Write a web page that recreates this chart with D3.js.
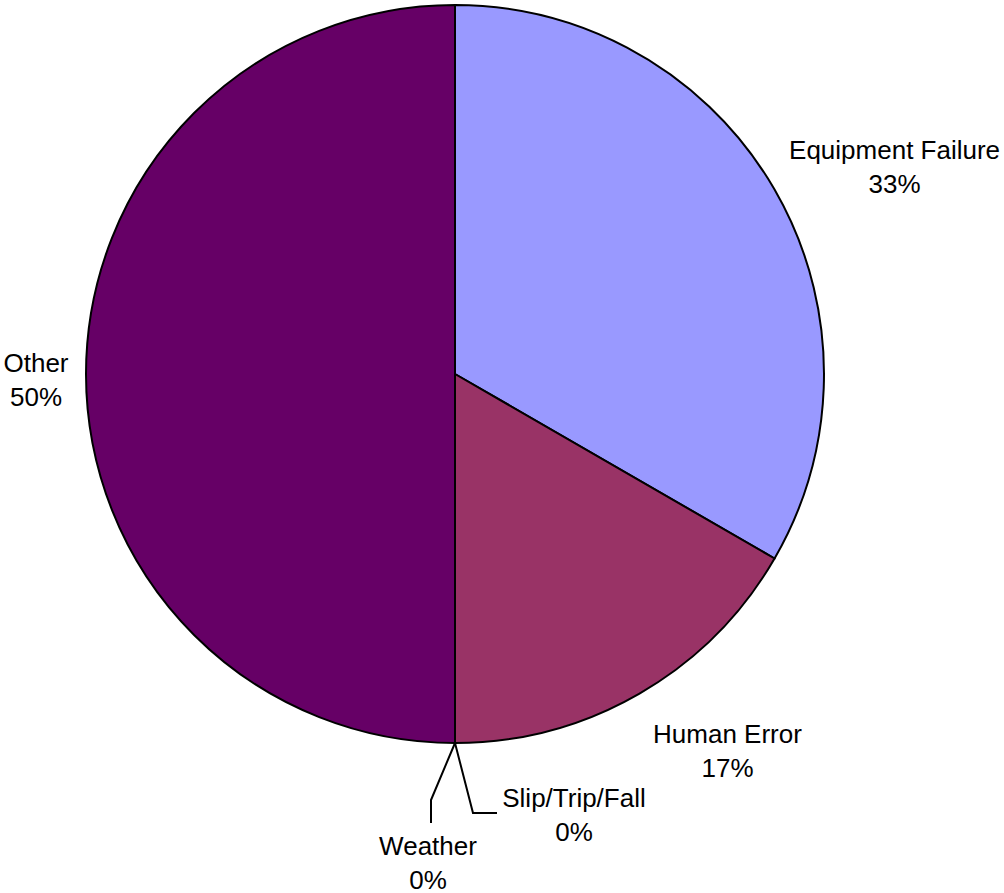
<!DOCTYPE html>
<html>
<head>
<meta charset="utf-8">
<script src="https://cdn.jsdelivr.net/npm/d3@7"></script>
<style>
  html, body { margin: 0; padding: 0; background: #ffffff; }
  svg { display: block; }
  text { font-family: "Liberation Sans", Arial, sans-serif; font-size: 26px; fill: #000; }
</style>
</head>
<body>
<svg id="chart" width="1004" height="893"></svg>
<script>
// ---- data ----
const categories = ["Equipment Failure", "Human Error", "Slip/Trip/Fall", "Weather", "Other"];
const counts = [2, 1, 0, 0, 3];
const percentLabels = ["33%", "17%", "0%", "0%", "50%"];

// ---- styling / layout (not data) ----
const colors = ["#9999FF", "#993366", "#FFFFCC", "#CCFFFF", "#660066"];
const width = 1004, height = 893;
const cx = 455, cy = 374, radius = 369;
const lineGap = 34;
// label placement relative to the arc's outer point at the mid-angle
const labelOffset = {
  "Equipment Failure": { dx: 120, dy: -31 },
  "Human Error": { dx: 88, dy: 49 },
  "Slip/Trip/Fall": { dx: 119, dy: 64, leader: [[18, 70], [42, 70]] },
  "Weather": { dx: -27, dy: 112, leader: [[-24, 57], [-24, 80]] },
  "Other": { dx: -50, dy: -2 }
};

const svg = d3.select("#chart");
const g = svg.append("g").attr("transform", `translate(${cx},${cy})`);

const pie = d3.pie().sort(null).value(d => d.v);
const data = categories.map((c, i) => ({ name: c, v: counts[i], pct: percentLabels[i], color: colors[i] }));
const arcs = pie(data);
const arc = d3.arc().innerRadius(0).outerRadius(radius);

g.selectAll("path.slice")
  .data(arcs.filter(d => d.endAngle - d.startAngle > 0))
  .join("path")
  .attr("class", "slice")
  .attr("d", arc)
  .attr("fill", d => d.data.color)
  .attr("stroke", "#000")
  .attr("stroke-width", 2)
  .attr("stroke-linejoin", "round");

// labels
arcs.forEach(d => {
  const mid = (d.startAngle + d.endAngle) / 2;
  const px = radius * Math.sin(mid);
  const py = -radius * Math.cos(mid);
  const off = labelOffset[d.data.name];
  if (off.leader) {
    const pts = [[px, py]].concat(off.leader.map(p => [px + p[0], py + p[1]]));
    g.append("path")
      .attr("d", d3.line()(pts))
      .attr("fill", "none")
      .attr("stroke", "#000")
      .attr("stroke-width", 2);
  }
  const t = g.append("text")
    .attr("text-anchor", "middle")
    .attr("x", px + off.dx)
    .attr("y", py + off.dy);
  t.append("tspan").attr("x", px + off.dx).text(d.data.name);
  t.append("tspan").attr("x", px + off.dx).attr("dy", lineGap).text(d.data.pct);
});
</script>
</body>
</html>
